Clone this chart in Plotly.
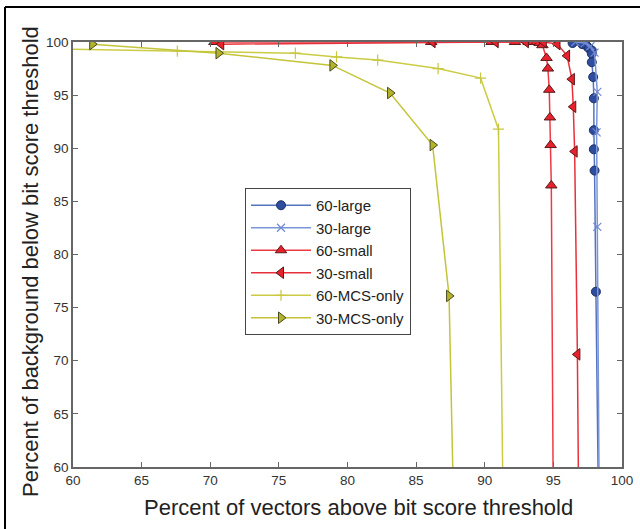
import plotly.graph_objects as go

# ---- data ----
large60_x = [96.4, 97.1, 97.45, 97.6, 97.8, 97.8, 97.8, 97.9, 97.95, 97.95, 97.95, 98.0, 98.1, 98.3]
large60_y = [99.9, 99.8, 99.6, 99.4, 99.2, 98.9, 98.1, 96.7, 94.7, 91.7, 89.9, 87.9, 76.5, 55.0]

large30_x = [96.6, 97.3, 97.7, 98.0, 98.2, 98.15, 98.2, 98.35]
large30_y = [100.0, 99.9, 99.6, 99.0, 95.3, 91.5, 82.6, 55.0]

small60_x = [70.3, 86.1, 90.5, 92.2, 93.2, 93.8, 94.0, 94.2, 94.5, 94.6, 94.7, 94.75, 94.8, 94.85, 95.0]
small60_y = [100.0, 100.0, 100.0, 100.0, 100.0, 100.0, 99.9, 99.7, 98.5, 97.5, 95.5, 92.9, 90.3, 86.5, 55.0]

small30_x = [70.8, 86.2, 90.8, 93.0, 94.3, 95.3, 96.0, 96.35, 96.45, 96.55, 96.75, 96.85]
small30_y = [99.8, 100.0, 100.0, 100.0, 100.0, 99.8, 98.7, 96.5, 93.9, 89.7, 70.6, 55.0]

mcs60_x = [59.0, 67.6, 76.2, 79.2, 82.2, 86.6, 89.7, 91.0, 91.35]
mcs60_y = [99.35, 99.15, 98.95, 98.6, 98.3, 97.5, 96.6, 91.8, 55.0]

mcs30_x = [61.4, 70.6, 78.9, 83.1, 86.2, 87.4, 87.75]
mcs30_y = [99.8, 98.95, 97.8, 95.2, 90.3, 76.1, 55.0]

x_ticks = [60, 65, 70, 75, 80, 85, 90, 95, 100]
y_ticks = [60, 65, 70, 75, 80, 85, 90, 95, 100]

x_title = "Percent of vectors above bit score threshold"
y_title = "Percent of background below bit score threshold"

series = [
    ("60-large", large60_x, large60_y, "#5573c0", dict(symbol="circle", size=9, color="#2f4d9e", line=dict(color="#1e2f66", width=1))),
    ("30-large", large30_x, large30_y, "#7a95d8", dict(symbol="x-thin-open", size=8, color="#6f8ad6", line=dict(color="#6f8ad6", width=1.2))),
    ("60-small", small60_x, small60_y, "#ee3a44", dict(symbol="triangle-up", size=10, color="#e8222c", line=dict(color="#5a1a1a", width=1))),
    ("30-small", small30_x, small30_y, "#e8303a", dict(symbol="triangle-left", size=10, color="#e8222c", line=dict(color="#5a1a1a", width=1))),
    ("60-MCS-only", mcs60_x, mcs60_y, "#cccc44", dict(symbol="cross-thin-open", size=8, color="#c8c840", line=dict(color="#c8c840", width=1.2))),
    ("30-MCS-only", mcs30_x, mcs30_y, "#c4c43a", dict(symbol="triangle-right", size=10, color="#b3b32a", line=dict(color="#4a4a20", width=1))),
]

fig = go.Figure()
for name, xs, ys, lc, mk in series:
    fig.add_trace(go.Scatter(x=xs, y=ys, name=name, mode="lines+markers",
                             line=dict(color=lc, width=1.5), marker=mk))

FONT = "Liberation Sans, Arial, sans-serif"
axis_common = dict(showline=True, linecolor="#666666", linewidth=1.5, mirror="ticks",
                   ticks="inside", ticklen=5, tickcolor="#666666", tickwidth=1,
                   showgrid=False, zeroline=False,
                   tickfont=dict(family=FONT, size=13.5, color="#333333"))

fig.update_xaxes(range=[60, 100], tickvals=x_ticks, **axis_common)
fig.update_yaxes(range=[60, 100], tickvals=y_ticks, **axis_common)

L, R, T, B = 73, 18, 42, 62
W, H = 640, 529
pw, ph = W - L - R, H - T - B

def px(xp):
    return (xp - L) / pw

def py(yp):
    return (H - B - yp) / ph

fig.update_layout(
    width=W, height=H,
    margin=dict(l=L, r=R, t=T, b=B, autoexpand=False),
    plot_bgcolor="white", paper_bgcolor="white",
    font=dict(family=FONT),
    legend=dict(x=px(245), y=py(188), xanchor="left", yanchor="top",
                bordercolor="#444444", borderwidth=1, bgcolor="white",
                font=dict(size=15, color="#222222"), itemwidth=60,
                tracegroupgap=0),
    annotations=[
        dict(text=x_title, xref="paper", yref="paper", x=px(358), y=py(507),
             xanchor="center", yanchor="middle", showarrow=False,
             font=dict(family=FONT, size=22, color="#222222")),
        dict(text=y_title, xref="paper", yref="paper", x=px(30), y=py(262),
             xanchor="center", yanchor="middle", showarrow=False, textangle=-90,
             font=dict(family=FONT, size=22, color="#222222")),
    ],
    shapes=[
        dict(type="line", xref="paper", yref="paper", x0=px(5), x1=px(640), y0=py(7), y1=py(7),
             line=dict(color="black", width=2)),
        dict(type="line", xref="paper", yref="paper", x0=px(5), x1=px(5), y0=py(7), y1=py(529),
             line=dict(color="black", width=2)),
    ],
)

fig.write_html("out.html", config={"displayModeBar": False},
               post_script="document.body.style.margin='0px';")
